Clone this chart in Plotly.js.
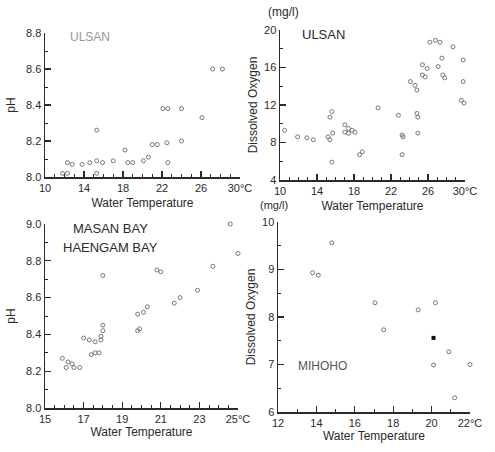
<!DOCTYPE html>
<html><head><meta charset="utf-8">
<script src="https://cdn.plot.ly/plotly-3.0.1.min.js"></script>
<style>html,body{margin:0;padding:0;background:#fff}#c{width:495px;height:452px}</style>
</head><body><div id="c"></div>
<script>
// Ulsan pH vs water temperature
const ulsanPhTemp = [26.9,27.2,28.2,22.1,22.6,24.0,26.1,15.3,21.0,21.5,22.5,24.0,18.2,12.3,12.8,13.8,14.6,15.3,15.9,17.0,18.5,19.0,20.1,20.6,22.6,11.8,12.3,15.3];
const ulsanPh     = [8.81,8.60,8.60,8.38,8.38,8.38,8.33,8.26,8.18,8.18,8.19,8.20,8.15,8.08,8.07,8.07,8.08,8.09,8.08,8.09,8.08,8.08,8.09,8.11,8.08,8.02,8.02,8.02];
// Ulsan dissolved oxygen vs water temperature
const ulsanDoTemp = [26.2,26.8,27.3,28.7,29.8,27.5,27.1,25.4,25.9,25.4,25.7,27.6,27.8,24.1,24.6,24.8,29.8,29.6,29.9,20.6,24.8,24.9,22.8,15.6,15.4,17.0,17.4,17.8,17.0,18.1,17.4,11.9,12.9,13.6,15.2,15.7,15.4,23.2,23.3,24.9,18.9,18.6,23.2,15.6,10.5];
const ulsanDo     = [18.7,18.9,18.7,18.2,16.8,17.0,16.1,16.3,15.9,15.2,15.0,15.2,14.9,14.5,14.1,13.6,14.5,12.5,12.2,11.7,11.1,10.7,10.9,11.3,10.7,9.9,9.5,9.3,9.1,9.1,9.0,8.6,8.5,8.3,8.6,9.0,8.3,8.8,8.6,9.0,7.0,6.7,6.7,5.9,9.3];
// Masan Bay / Haengam Bay pH vs water temperature
const masanTemp = [15.9,16.2,16.4,16.1,16.5,16.8,17.0,17.3,17.4,17.6,17.8,17.6,17.9,17.9,18.0,18.0,18.0,19.8,19.9,19.8,20.1,20.3,20.8,21.0,21.7,22.0,22.9,23.7,25.0,24.6];
const masanPh   = [8.27,8.25,8.24,8.22,8.22,8.22,8.38,8.37,8.29,8.30,8.30,8.36,8.37,8.39,8.42,8.45,8.72,8.42,8.43,8.51,8.52,8.55,8.75,8.74,8.57,8.60,8.64,8.77,8.84,9.00];
// Miho dissolved oxygen vs water temperature
const mihoTemp = [14.8,13.8,14.1,17.05,20.2,19.3,17.5,20.9,20.1,22.0,21.2];
const mihoDo   = [9.56,8.93,8.88,8.30,8.30,8.15,7.73,7.27,6.99,7.00,6.30];
const mihoFilledTemp = [20.1];
const mihoFilledDo   = [7.56];

// tick labels
const x1Vals = [10,14,18,22,26,30], x1Text = ['10','14','18','22','26','30°C'];
const x2Vals = [10,14,18,22,26,30], x2Text = ['10','14','18','22','26','30°C'];
const x3Vals = [15,17,19,21,23,25], x3Text = ['15','17','19','21','23','25°C'];
const x4Vals = [12,14,16,18,20,22], x4Text = ['12','14','16','18','20','22°C'];
const y1Vals = [8.0,8.2,8.4,8.6,8.8], y1Text = ['8.0','8.2','8.4','8.6','8.8'];
const y2Vals = [4,8,12,16,20], y2Text = ['4','8','12','16','20'];
const y3Vals = [8.0,8.2,8.4,8.6,8.8,9.0], y3Text = ['8.0','8.2','8.4','8.6','8.8','9.0'];
const y4Vals = [6,7,8,9,10], y4Text = ['6','7','8','9','10'];

const W = 495, H = 452;
const px = v => v / W, py = v => 1 - v / H;
const ink = '#2a2a2a';
const font = {family: 'Liberation Sans, Arial, sans-serif', size: 11, color: ink};

const mk = {symbol: 'circle-open', size: 4, color: '#777', line: {width: 1, color: '#777'}};
const traces = [
  {x: ulsanPhTemp, y: ulsanPh, xaxis: 'x', yaxis: 'y', mode: 'markers', type: 'scatter', marker: mk, cliponaxis: false},
  {x: ulsanDoTemp, y: ulsanDo, xaxis: 'x2', yaxis: 'y2', mode: 'markers', type: 'scatter', marker: mk, cliponaxis: false},
  {x: masanTemp, y: masanPh, xaxis: 'x3', yaxis: 'y3', mode: 'markers', type: 'scatter', marker: mk, cliponaxis: false},
  {x: mihoTemp, y: mihoDo, xaxis: 'x4', yaxis: 'y4', mode: 'markers', type: 'scatter', marker: mk, cliponaxis: false},
  {x: mihoFilledTemp, y: mihoFilledDo, xaxis: 'x4', yaxis: 'y4', mode: 'markers', type: 'scatter', marker: {symbol: 'square', size: 4, color: '#111'}, cliponaxis: false}
];

function xa(dom, range, vals, text, anchor, minorStep, title, standoff) {
  return {domain: dom, range: range, anchor: anchor, tickmode: 'array', tickvals: vals, ticktext: text,
    showline: true, linecolor: ink, linewidth: 1.5, ticks: 'inside', ticklen: 6, tickwidth: 1.2, tickcolor: ink,
    minor: {dtick: minorStep, ticks: 'inside', ticklen: 3, tickcolor: ink, tickwidth: 1},
    showgrid: false, zeroline: false, tickfont: font, automargin: false,
    title: {text: title, font: {family: font.family, size: 12, color: ink}, standoff: standoff}};
}
function ya(dom, range, vals, text, anchor, minorStep, title, standoff) {
  return {domain: dom, range: range, anchor: anchor, tickmode: 'array', tickvals: vals, ticktext: text,
    showline: true, linecolor: ink, linewidth: 1.5, ticks: 'inside', ticklen: 6, tickwidth: 1.2, tickcolor: ink,
    minor: {dtick: minorStep, ticks: 'inside', ticklen: 3, tickcolor: ink, tickwidth: 1},
    showgrid: false, zeroline: false, tickfont: font, automargin: false,
    title: {text: title, font: {family: font.family, size: 12, color: ink}, standoff: standoff}};
}

const layout = {
  width: W, height: H, margin: {l: 0, r: 0, t: 0, b: 0}, showlegend: false,
  paper_bgcolor: '#fff', plot_bgcolor: '#fff', font: font,
  xaxis:  xa([px(45), px(240)], [10, 30], x1Vals, x1Text, 'y', 1, 'Water Temperature', 6),
  yaxis:  ya([py(177), py(33)], [8.0, 8.8], y1Vals, y1Text, 'x', 0.1, 'pH', 8),
  xaxis2: xa([px(280), px(465)], [10, 30], x2Vals, x2Text, 'y2', 1, 'Water Temperature', 6),
  yaxis2: ya([py(180), py(30)], [4, 20], y2Vals, y2Text, 'x2', 2, 'Dissolved Oxygen', 4),
  xaxis3: xa([px(45), px(238)], [15, 25], x3Vals, x3Text, 'y3', 0.5, 'Water Temperature', 4),
  yaxis3: ya([py(408), py(224)], [8.0, 9.0], y3Vals, y3Text, 'x3', 0.1, 'pH', 8),
  xaxis4: xa([px(278), px(470)], [12, 22], x4Vals, x4Text, 'y4', 1, 'Water Temperature', 4),
  yaxis4: ya([py(412), py(222)], [6, 10], y4Vals, y4Text, 'x4', 0.5, 'Dissolved Oxygen', 4),
  annotations: [
    {text: 'ULSAN', x: px(68), y: py(37), xref: 'paper', yref: 'paper', xanchor: 'left', yanchor: 'middle', showarrow: false, font: {family: font.family, size: 12, color: '#999'}},
    {text: 'ULSAN', x: px(300), y: py(35), xref: 'paper', yref: 'paper', xanchor: 'left', yanchor: 'middle', showarrow: false, font: {family: font.family, size: 13, color: ink}},
    {text: 'MASAN BAY', x: px(110), y: py(228), xref: 'paper', yref: 'paper', xanchor: 'center', yanchor: 'middle', showarrow: false, font: {family: font.family, size: 13, color: ink}},
    {text: 'HAENGAM BAY', x: px(110), y: py(248), xref: 'paper', yref: 'paper', xanchor: 'center', yanchor: 'middle', showarrow: false, font: {family: font.family, size: 13, color: ink}},
    {text: 'MIHOHO', x: px(296), y: py(366), xref: 'paper', yref: 'paper', xanchor: 'left', yanchor: 'middle', showarrow: false, font: {family: font.family, size: 12, color: '#555'}},
    {text: '(mg/l)', x: px(283), y: py(12), xref: 'paper', yref: 'paper', xanchor: 'center', yanchor: 'middle', showarrow: false, font: {family: font.family, size: 12, color: ink}},
    {text: '(mg/l)', x: px(274), y: py(205), xref: 'paper', yref: 'paper', xanchor: 'center', yanchor: 'middle', showarrow: false, font: {family: font.family, size: 11, color: ink}}
  ]
};
Plotly.newPlot('c', traces, layout, {staticPlot: true, displayModeBar: false});
</script></body></html>
